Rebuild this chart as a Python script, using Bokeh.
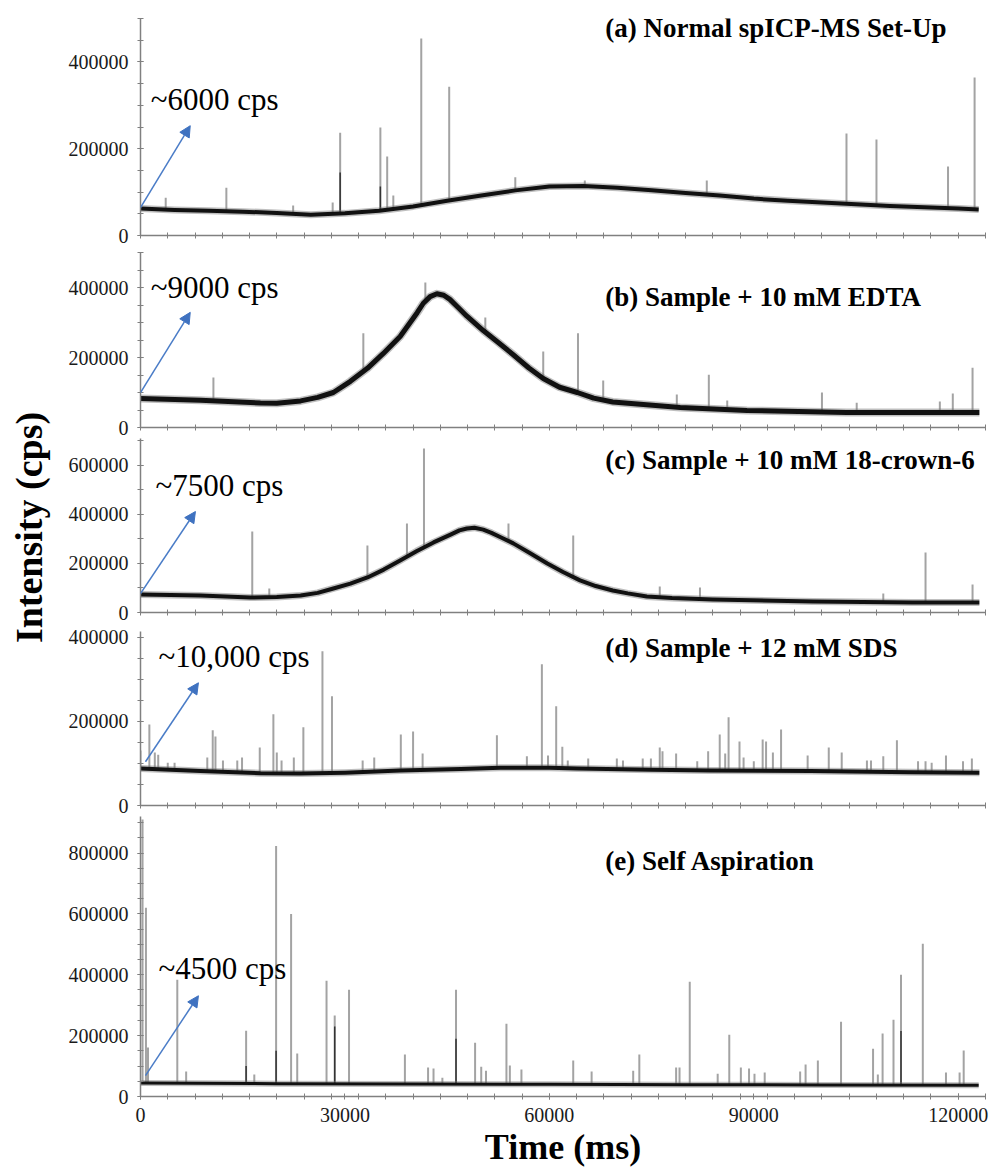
import numpy as np
from bokeh.plotting import figure
from bokeh.layouts import column, row
from bokeh.models import FixedTicker, Arrow, NormalHead, NumeralTickFormatter
from bokeh.core.properties import value
from bokeh.embed import file_html
from bokeh.resources import INLINE

# ---------------- data ----------------
# (a) Normal spICP-MS Set-Up
a_base_t = [0, 5000, 10000, 15000, 20000, 25000, 30000, 35000, 40000, 45000, 50000, 55000,
            60000, 65000, 70000, 75000, 80000, 85000, 90000, 95000, 100000, 105000, 110000,
            115000, 120000, 123000]
a_base_v = [62000, 59000, 57000, 55000, 52000, 48000, 51000, 57000, 67000, 80000, 92000, 104000,
            113000, 114000, 110000, 104000, 98000, 92000, 85000, 80000, 76000, 72000, 68000,
            65000, 62000, 60000]
a_spike_t = [3700, 12600, 22400, 28200, 29300, 35200, 36200, 37100, 41200, 45300, 55000, 65200,
             83100, 103600, 108000, 118500, 122400]
a_spike_v = [87000, 110000, 69000, 76000, 237000, 249000, 182000, 92000, 454000, 343000, 134000,
             127000, 127000, 235000, 221000, 159000, 364000]
a_dark_t = [29300, 35200]
a_dark_v = [145000, 113000]

# (b) Sample + 10 mM EDTA
b_base_t = [0, 8800, 17600, 20000, 23500, 26000, 28300, 30800, 33300, 35600, 38100, 40600,
            41500, 42500, 43500, 44500, 45400, 46500, 47900, 50300, 52500, 54700, 57000, 59100,
            61500, 64100, 66500, 69300, 79200, 89000, 103600, 113300, 123100]
b_base_v = [83000, 78000, 70000, 69000, 76000, 86000, 100000, 132000, 169000, 211000, 260000,
            328000, 355000, 374000, 382000, 378000, 366000, 345000, 318000, 277000, 243000,
            208000, 170000, 140000, 115000, 100000, 84000, 73000, 57000, 48500, 43000, 43000,
            43000]
b_spike_t = [10700, 32700, 41800, 50600, 59100, 64200, 67900, 78700, 83400, 86100, 100000,
             105100, 117300, 119200, 122100]
b_spike_v = [143000, 269000, 414000, 314000, 217000, 269000, 134000, 94000, 151000, 77000,
             100000, 71000, 74000, 97000, 171000]

# (c) Sample + 10 mM 18-crown-6
c_base_t = [0, 8800, 16100, 20000, 23500, 26000, 28300, 30800, 33300, 35700, 38100, 40500,
            43000, 45500, 46800, 47900, 49000, 50300, 51500, 53000, 54700, 57000, 59700, 62000,
            64500, 66800, 69300, 71500, 74300, 78000, 84000, 98700, 113300, 123100]
c_base_v = [73500, 69000, 61000, 63000, 69000, 80000, 98000, 118000, 143000, 175000, 212000,
            250000, 286000, 318000, 335000, 343000, 346000, 338000, 325000, 305000, 282000,
            245000, 200000, 165000, 131000, 108000, 90000, 78000, 65000, 59000, 53000, 45000,
            41000, 41000]
c_spike_t = [16400, 18900, 33300, 39100, 41600, 54000, 63500, 76200, 82100, 109000, 115200, 122100]
c_spike_v = [331000, 98000, 273000, 363000, 669000, 363000, 314000, 106000, 102000, 78000,
             245000, 114000]

# (d) Sample + 12 mM SDS
d_base_t = [0, 8800, 17600, 23500, 30000, 38100, 47000, 52800, 60000, 64100, 75000, 83600,
            98300, 113000, 123100]
d_base_v = [88000, 82000, 77000, 76000, 78000, 83000, 87000, 90000, 90000, 88000, 85000, 83000,
            82000, 79000, 78000]
d_spike_t = [0, 1300, 2100, 2600, 4000, 5000, 9800, 10600, 11000, 12100, 14200, 14900, 17500,
             19500, 20000, 20700, 22500, 23900, 26700, 28100, 32600, 34300, 38200, 40000, 41400,
             52300, 56700, 58900, 59800, 61000, 61900, 62700, 65700, 69900, 70800, 73700, 74900,
             76200, 76600, 78600, 81700, 83300, 85000, 85800, 86300, 87900, 88500, 90000, 91300,
             91800, 92800, 94000, 97900, 101000, 102900, 106600, 107200, 109000, 111000, 114100,
             115200, 116100, 118200, 120700, 122000]
d_spike_v = [131000, 193000, 126000, 121000, 102000, 102000, 114000, 179000, 164000, 107000,
             107000, 114000, 138000, 217000, 126000, 107000, 114000, 186000, 367000, 260000,
             107000, 114000, 169000, 176000, 124000, 167000, 117000, 336000, 119000, 236000,
             140000, 107000, 112000, 112000, 107000, 112000, 112000, 138000, 129000, 124000,
             105000, 129000, 169000, 124000, 210000, 152000, 114000, 105000, 157000, 152000,
             126000, 181000, 119000, 138000, 126000, 107000, 107000, 117000, 155000, 105000,
             105000, 102000, 119000, 105000, 112000]

# (e) Self Aspiration
e_base_t = [0, 20000, 40000, 60000, 80000, 100000, 123000]
e_base_v = [44000, 42000, 41000, 40000, 39000, 38000, 37000]
e_spike_t = [300, 800, 1100, 5400, 6700, 15500, 16700, 19900, 22100, 23000, 27300, 28500, 30600,
             38800, 42200, 43000, 44300, 46300, 49100, 50000, 50700, 53700, 54200, 55900, 63500,
             66200, 72300, 73200, 78600, 79100, 80600, 84700, 86400, 88100, 89300, 90100, 91600,
             96800, 97600, 99400, 102800, 107500, 108200, 108900, 110500, 111600, 114800, 118200,
             120200, 120800]
e_spike_v = [910000, 620000, 161000, 384000, 82000, 216000, 72000, 823000, 600000, 141000,
             380000, 266000, 351000, 138000, 95000, 92000, 62000, 351000, 177000, 98000, 85000,
             239000, 102000, 89000, 118000, 82000, 85000, 138000, 95000, 95000, 377000, 75000,
             203000, 95000, 92000, 75000, 79000, 82000, 105000, 118000, 246000, 157000, 72000,
             207000, 252000, 400000, 502000, 79000, 79000, 151000]
e_dark_t = [15500, 19900, 28500, 46300, 111600]
e_dark_v = [100000, 150000, 230000, 190000, 215000]

titles = ["(a) Normal spICP-MS Set-Up", "(b) Sample + 10 mM EDTA",
          "(c) Sample + 10 mM 18-crown-6", "(d) Sample + 12 mM SDS", "(e) Self Aspiration"]
notes = ["~6000 cps", "~9000 cps", "~7500 cps", "~10,000 cps", "~4500 cps"]
y_labels = [0, 200000, 400000, 600000, 800000]
x_labels = [0, 30000, 60000, 90000, 120000]
y_title = "Intensity (cps)"
x_title = "Time (ms)"

# ---------------- layout / style ----------------
FONT = "Liberation Serif"
X_MAX = 124000
AX = "#808080"
LABEL_W = 58
panels = [
    dict(bt=a_base_t, bv=a_base_v, st=a_spike_t, sv=a_spike_v, dt=a_dark_t, dv=a_dark_v,
         ymax=500000, minor=50000, fh=217, top=18, bottom=12, lw=4,
         ty=477000, ny=313000, nx=1500, arr=(0, 64500, 7300, 253000)),
    dict(bt=b_base_t, bv=b_base_v, st=b_spike_t, sv=b_spike_v, dt=[], dv=[],
         ymax=500000, minor=50000, fh=175, top=5, bottom=11, lw=5,
         ty=374000, ny=400000, nx=1500, arr=(0, 100000, 7300, 329000)),
    dict(bt=c_base_t, bv=c_base_v, st=c_spike_t, sv=c_spike_v, dt=[], dv=[],
         ymax=710000, minor=100000, fh=174, top=0, bottom=13, lw=4,
         ty=622000, ny=518000, nx=2200, arr=(0, 77500, 8060, 412000)),
    dict(bt=d_base_t, bv=d_base_v, st=d_spike_t, sv=d_spike_v, dt=[], dv=[],
         ymax=414000, minor=50000, fh=174, top=6, bottom=11, lw=4,
         ty=374000, ny=355000, nx=2640, arr=(730, 104000, 8500, 292000)),
    dict(bt=e_base_t, bv=e_base_v, st=e_spike_t, sv=e_spike_v, dt=e_dark_t, dv=e_dark_v,
         ymax=920000, minor=50000, fh=280, top=0, bottom=0, lw=3,
         ty=774000, ny=420000, nx=2640, arr=(730, 68800, 8500, 331000)),
]

figs = []
for i, cfg in enumerate(panels):
    last = i == len(panels) - 1
    p = figure(frame_width=845, frame_height=cfg["fh"], x_range=(0, X_MAX),
               y_range=(0, cfg["ymax"]), output_backend="svg", toolbar_location=None,
               min_border_left=140 - LABEL_W, min_border_right=5, min_border_top=cfg["top"],
               min_border_bottom=cfg["bottom"], background_fill_color="white",
               border_fill_color="white")
    p.outline_line_color = None
    p.grid.visible = False

    yl = [v for v in y_labels if v <= cfg["ymax"]]
    p.yaxis.ticker = FixedTicker(ticks=yl, minor_ticks=list(range(0, cfg["ymax"] + 1, cfg["minor"])))
    p.yaxis.formatter = NumeralTickFormatter(format="0")
    p.xaxis.formatter = NumeralTickFormatter(format="0")
    minor_x = list(range(0, X_MAX + 1, 4000))
    if last:
        p.xaxis.ticker = FixedTicker(ticks=x_labels, minor_ticks=minor_x)
        p.xaxis.axis_label = x_title
        p.xaxis.axis_label_text_font = FONT
        p.xaxis.axis_label_text_font_style = "bold"
        p.xaxis.axis_label_text_font_size = "36px"
        p.xaxis.axis_label_text_color = "black"
        p.xaxis.axis_label_standoff = 2
        p.xaxis.major_label_standoff = 8
        p.xaxis.major_label_text_font_size = "20px"
    else:
        p.xaxis.ticker = FixedTicker(ticks=[], minor_ticks=minor_x)
    for ax in (p.xaxis[0], p.yaxis[0]):
        ax.axis_line_color = AX
        ax.axis_line_width = 1.5
        ax.major_tick_line_color = AX
        ax.minor_tick_line_color = AX
        ax.major_tick_in = 3
        ax.major_tick_out = 3
        ax.minor_tick_in = 3
        ax.minor_tick_out = 3
        ax.major_label_text_font = FONT
        ax.major_label_text_color = "#1a1a1a"
    p.yaxis.major_label_text_font_size = "20px"
    p.yaxis.major_label_standoff = 9

    # spikes
    st = np.array(cfg["st"], dtype=float)
    sb = np.interp(st, cfg["bt"], cfg["bv"])
    p.segment(x0=st, y0=sb, x1=st, y1=cfg["sv"], line_color="#a3a3a3", line_width=2)
    if cfg["dt"]:
        dt = np.array(cfg["dt"], dtype=float)
        db = np.interp(dt, cfg["bt"], cfg["bv"])
        p.segment(x0=dt, y0=db, x1=dt, y1=cfg["dv"], line_color="#333333", line_width=1.5)

    # baseline (noisy band look)
    p.line(cfg["bt"], cfg["bv"], line_color="#707070", line_width=cfg["lw"] + 3,
           line_alpha=0.45, line_join="round")
    p.line(cfg["bt"], cfg["bv"], line_color="#111111", line_width=cfg["lw"], line_join="round")

    # title text
    p.text(x=[68200], y=[cfg["ty"]], text=[titles[i]], text_font=value(FONT),
           text_font_style="bold", text_font_size="27px", text_baseline="middle",
           text_align="left", text_color="black")
    # annotation text + arrow
    p.text(x=[cfg["nx"]], y=[cfg["ny"]], text=[notes[i]], text_font=value(FONT),
           text_font_size="31px", text_baseline="middle", text_align="left",
           text_color="black")
    x0, y0, x1, y1 = cfg["arr"]
    p.add_layout(Arrow(x_start=x0, y_start=y0, x_end=x1, y_end=y1,
                       line_color="#4a7cc7", line_width=1.5,
                       end=NormalHead(size=11, fill_color="#3f72c0", line_color="#3f72c0")))
    figs.append(p)

# left strip carrying the shared y-axis title
LH = 1100
lab = figure(frame_width=LABEL_W, frame_height=LH, x_range=(0, LABEL_W), y_range=(0, LH),
             output_backend="svg", toolbar_location=None, x_axis_location=None,
             y_axis_location=None, min_border=0, background_fill_color="white",
             border_fill_color="white")
lab.outline_line_color = None
lab.grid.visible = False
lab.text(x=[28], y=[LH - 527], text=[y_title], angle=np.pi / 2, text_font=value(FONT),
         text_font_style="bold", text_font_size="38px", text_align="center",
         text_baseline="middle", text_color="black")

layout = row(lab, column(*figs, spacing=0), spacing=0)
open("out.html", "w").write(file_html(layout, INLINE))
